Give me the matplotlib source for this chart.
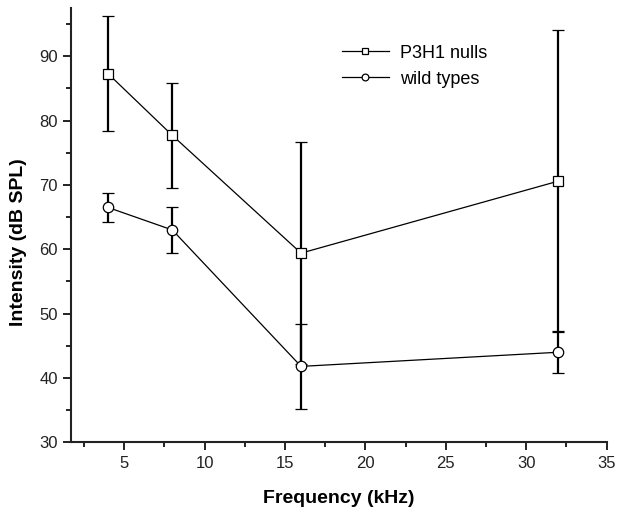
import matplotlib
matplotlib.use("Agg")
import matplotlib.pyplot as plt
from matplotlib.ticker import MultipleLocator

plt.rcParams["font.family"] = ["Liberation Sans", "DejaVu Sans"]

# Data
freq = [4, 8, 16, 32]
nulls_mean = [87.3, 77.7, 59.4, 70.6]
nulls_err = [8.9, 8.2, 17.3, 23.5]
wild_mean = [66.5, 63.0, 41.8, 44.0]
wild_err = [2.3, 3.5, 6.6, 3.3]

fig = plt.figure(figsize=(6.24, 5.16), dpi=100)
ax = fig.add_axes([0.1138, 0.1428, 0.8585, 0.8417])

common = dict(color="black", lw=0.9, mfc="white", mec="black", mew=0.9,
              ecolor="black", elinewidth=1.6, capsize=4.5, capthick=1.6)
ax.errorbar(freq, nulls_mean, yerr=nulls_err, marker="s", ms=6.5,
            label="P3H1 nulls", **common)
ax.errorbar(freq, wild_mean, yerr=wild_err, marker="o", ms=7.5,
            label="wild types", **common)

ax.set_xlim(1.7, 35)
ax.set_ylim(30, 97.5)
ax.xaxis.set_major_locator(MultipleLocator(5))
ax.xaxis.set_minor_locator(MultipleLocator(2.5))
ax.yaxis.set_major_locator(MultipleLocator(10))
ax.yaxis.set_minor_locator(MultipleLocator(5))

for side in ["top", "right"]:
    ax.spines[side].set_visible(False)
for side in ["left", "bottom"]:
    ax.spines[side].set_linewidth(1.5)
    ax.spines[side].set_color("#222222")

ax.tick_params(which="major", direction="out", length=6, width=1.4,
               labelsize=12, colors="#222222", pad=3.5)
ax.tick_params(which="minor", direction="out", length=3.5, width=1.4,
               colors="#222222")

ax.set_xlabel("Frequency (kHz)", fontsize=14, fontweight="bold")
ax.set_ylabel("Intensity (dB SPL)", fontsize=14, fontweight="bold")
ax.xaxis.set_label_coords(0.5, -0.11)
ax.yaxis.set_label_coords(-0.082, 0.461)

handles, labels = ax.get_legend_handles_labels()
handles = [h[0] for h in handles]
ax.legend(handles, labels, loc="upper left", bbox_to_anchor=(0.522, 0.945),
          bbox_transform=fig.transFigure, frameon=False, fontsize=13,
          handlelength=2.6, handletextpad=0.6, labelspacing=0.5,
          markerscale=0.65)

fig.savefig("out.png", dpi=100)
